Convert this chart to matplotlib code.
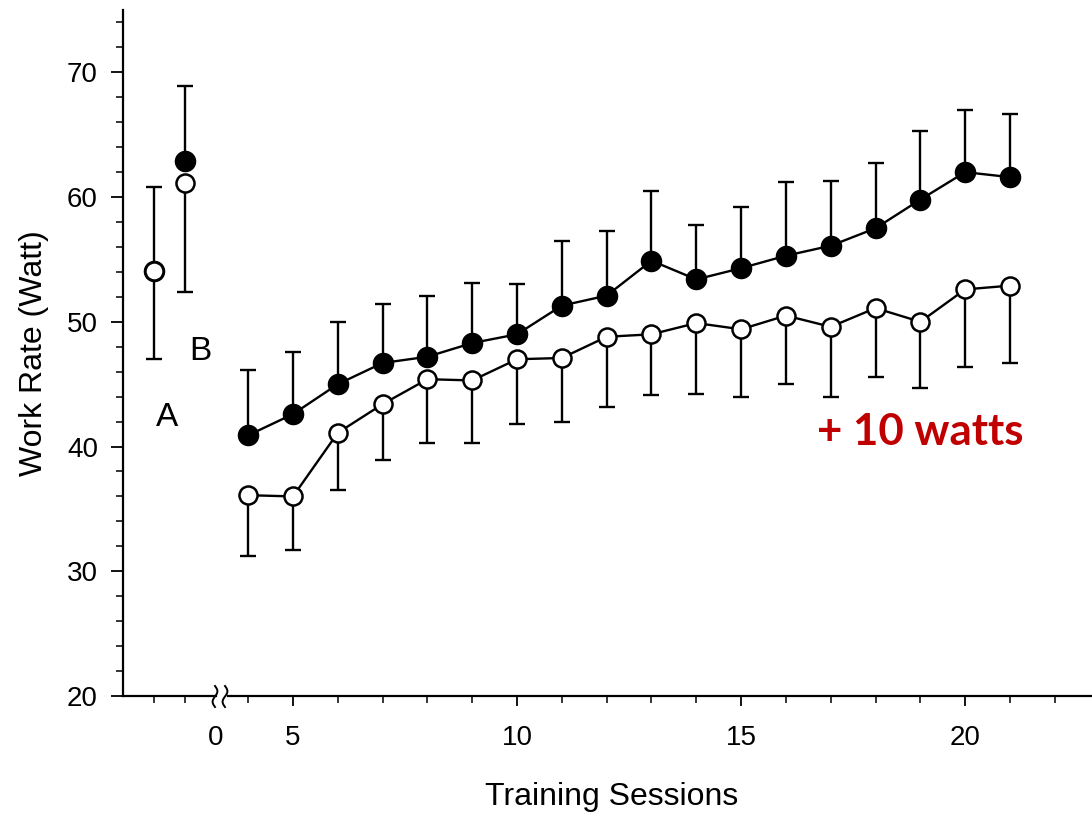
import matplotlib.pyplot as plt
import numpy as np
from matplotlib.lines import Line2D

# baseline tests (A, B)
base_x = [1, 2]
base_filled = [54.1, 62.9]
base_filled_sd = [6.7, 6.0]
base_open = [54.1, 61.1]
base_open_sd = [7.1, 8.7]

# training sessions
sessions = np.arange(4, 22)
filled = [40.9, 42.6, 45.0, 46.7, 47.2, 48.3, 49.0, 51.3, 52.1, 54.9, 53.4, 54.3, 55.3, 56.1, 57.5, 59.8, 62.0, 61.6]
filled_sd = [5.2, 5.0, 5.0, 4.7, 4.9, 4.8, 4.0, 5.2, 5.2, 5.6, 4.4, 4.9, 5.9, 5.2, 5.2, 5.5, 5.0, 5.1]
opened = [36.1, 36.0, 41.1, 43.4, 45.4, 45.3, 47.0, 47.1, 48.8, 49.0, 49.9, 49.4, 50.5, 49.6, 51.1, 50.0, 52.6, 52.9]
opened_sd = [4.9, 4.3, 4.6, 4.5, 5.1, 5.0, 5.2, 5.1, 5.6, 4.9, 5.7, 5.4, 5.5, 5.6, 5.5, 5.3, 6.2, 6.2]

plt.rcParams['font.family'] = ['Liberation Sans', 'DejaVu Sans']

W, H = 1092, 814
fig = plt.figure(figsize=(W / 100, H / 100), dpi=100)
bottom = 1 - 696 / H
height = (696 - 10) / H
ax_l = fig.add_axes([123 / W, bottom, (216 - 123) / W, height])
ax_r = fig.add_axes([228 / W, bottom, (W - 228) / W, height])

lw = 1.7
ms_f = 14.5
ms_o = 13


def draw(ax, x, yf, sf, yo, so, line):
    zf = np.zeros(len(sf))
    zo = np.zeros(len(so))
    ax.errorbar(x, yf, yerr=[zf, sf], fmt='none', ecolor='black', elinewidth=lw, capsize=5.5, capthick=lw, zorder=2)
    ax.errorbar(x, yo, yerr=[so, zo], fmt='none', ecolor='black', elinewidth=lw, capsize=5.5, capthick=lw, zorder=2)
    ls = '-' if line else 'none'
    ax.plot(x, yf, linestyle=ls, color='black', lw=lw, marker='o', markersize=ms_f,
            markerfacecolor='black', markeredgecolor='black', zorder=3)
    ax.plot(x, yo, linestyle=ls, color='black', lw=lw, marker='o', markersize=ms_o,
            markerfacecolor='white', markeredgecolor='black', markeredgewidth=1.8, zorder=4)


draw(ax_l, base_x, base_filled, base_filled_sd, base_open, base_open_sd, False)
draw(ax_r, sessions, filled, filled_sd, opened, opened_sd, True)

for ax in (ax_l, ax_r):
    ax.set_ylim(20, 75)
    ax.spines['top'].set_visible(False)
    ax.spines['right'].set_visible(False)
    ax.spines['bottom'].set_linewidth(1.6)
    ax.spines['left'].set_linewidth(1.6)
    ax.set_facecolor('none')

# left part: y axis and the two baseline tests
ax_l.set_xlim(0, 3)
ax_l.set_yticks(np.arange(20, 71, 10))
ax_l.set_yticks(np.arange(22, 75, 2), minor=True)
ax_l.tick_params(axis='y', which='major', length=9, width=1.3, labelsize=20, pad=9)
ax_l.tick_params(axis='y', which='minor', length=5, width=1.1)
ax_l.set_xticks([3], ['0'])
ax_l.set_xticks(base_x, minor=True)
ax_l.tick_params(axis='x', which='major', length=7, width=0, labelsize=20, pad=14)
ax_l.tick_params(axis='x', which='minor', length=5, width=1.1)
ax_l.set_ylabel('Work Rate (Watt)', fontsize=23, labelpad=13)
ax_l.text(1.42, 42.3, 'A', fontsize=24, ha='center', va='center')
ax_l.text(2.48, 47.6, 'B', fontsize=24, ha='center', va='center')

# right part: training sessions
ax_r.spines['left'].set_visible(False)
ax_r.set_xlim(3.55, 22.83)
ax_r.set_xticks([5, 10, 15, 20])
ax_r.set_xticks(np.arange(4, 23), minor=True)
ax_r.tick_params(axis='x', which='major', length=7, width=1.3, labelsize=20, pad=14)
ax_r.tick_params(axis='x', which='minor', length=5, width=1.1)
ax_r.set_yticks([])
ax_r.set_xlabel('Training Sessions', fontsize=23)
ax_r.xaxis.set_label_coords((612 - 228) / (W - 228), -0.125)
ax_r.text(19.0, 41.2, '+ 10 watts', fontsize=31.5, fontweight='bold', color='#C00000',
          family=['Lato', 'DejaVu Sans'], ha='center', va='center')

# axis break marks
t = np.linspace(0, 1, 40)
for px in (215, 225):
    xs = (px + 2.4 * np.sin(2 * np.pi * t)) / W
    ys = 1 - (686 + 21 * t) / H
    fig.add_artist(Line2D(xs, ys, color='black', lw=1.4))

plt.savefig('out.png', dpi=100)
